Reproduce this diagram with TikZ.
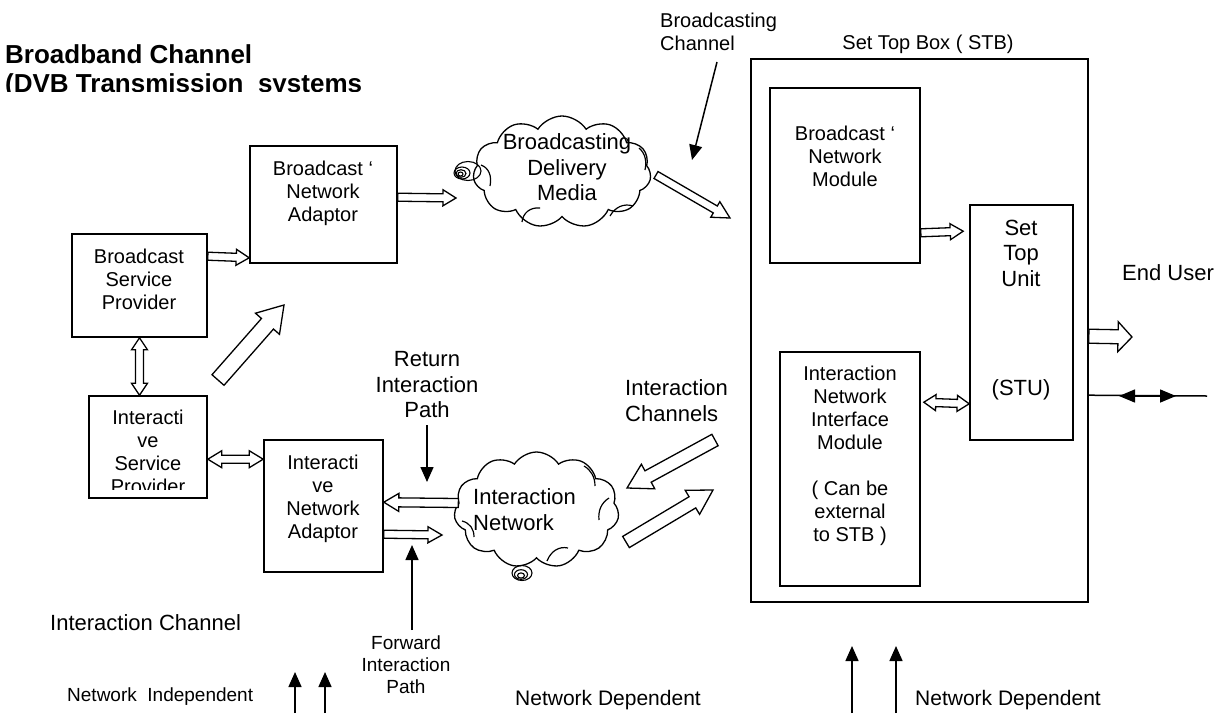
\documentclass[tikz,border=0pt]{standalone}
\usepackage{fontspec}
\setmainfont{Liberation Sans}
\usetikzlibrary{calc,arrows.meta,shapes.symbols}

% hollow block arrow: tail, tip, half shaft width, half head width, head length
\newcommand\blockarrow[5]{%
  \coordinate (ba-n) at ($(#2)!#5!(#1)$);
  \draw[blockarr] ($(#1)!#3!90:(#2)$) -- ($(ba-n)!#3!-90:(#1)$) -- ($(ba-n)!#4!-90:(#1)$)
    -- (#2) -- ($(ba-n)!#4!90:(#1)$) -- ($(ba-n)!#3!90:(#1)$) -- ($(#1)!#3!-90:(#2)$) -- cycle;
}
% hollow block arrow with a head at both ends
\newcommand\dblockarrow[5]{%
  \coordinate (ba-m) at ($(#1)!#5!(#2)$);
  \coordinate (ba-n) at ($(#2)!#5!(#1)$);
  \draw[blockarr] (#1) -- ($(ba-m)!#4!90:(#2)$) -- ($(ba-m)!#3!90:(#2)$)
    -- ($(ba-n)!#3!-90:(#1)$) -- ($(ba-n)!#4!-90:(#1)$) -- (#2)
    -- ($(ba-n)!#4!90:(#1)$) -- ($(ba-n)!#3!90:(#1)$)
    -- ($(ba-m)!#3!-90:(#2)$) -- ($(ba-m)!#4!-90:(#2)$) -- cycle;
}

\begin{document}
\begin{tikzpicture}[x=1pt,y=-1pt,
  box/.style={draw, line width=1.6pt, inner sep=0pt},
  blockarr/.style={draw, fill=white, line width=1.3pt, line join=miter},
  thinarr/.style={line width=1.5pt, -{Triangle[length=15pt,width=13pt]}},
  cloudshape/.style={cloud, draw, line width=1.3pt, cloud puffs=11, cloud puff arc=115,
    cloud ignores aspect, inner sep=0pt},
  puffline/.style={line width=1.2pt},
  bubble/.style={line width=1.1pt},
  t20/.style={inner sep=0pt, align=center, font=\fontsize{20}{23}\selectfont},
  t22/.style={inner sep=0pt, align=center, font=\fontsize{22}{25.5}\selectfont},
  t19/.style={inner sep=0pt, align=center, font=\fontsize{19}{22}\selectfont},
  t21/.style={inner sep=0pt, font=\fontsize{21}{24}\selectfont}]

\useasboundingbox (0,0) rectangle (1225,713);
\fill[white] (0,0) rectangle (1225,713);

% ---- title (lower line cut off by the frame) ----
\begin{scope}
  \clip (0,0) rectangle (420,91);
  \node[inner sep=0pt, anchor=north west, align=left,
        font=\fontsize{26}{29}\selectfont\bfseries] (title) at (5,44.5)
        {Broadband Channel\\(DVB Transmission\ \ systems};
\end{scope}

% ---- boxes ----
\node[box, minimum width=135pt, minimum height=103pt] (bsp) at (139.5,285.5) {};
\node[box, minimum width=118pt, minimum height=102pt] (isp) at (148,447) {};
\node[box, minimum width=147pt, minimum height=117pt] (bna) at (323.5,204.5) {};
\node[box, minimum width=119pt, minimum height=132pt] (ina) at (323.5,506) {};
\node[box, minimum width=337pt, minimum height=543pt] (stb) at (919.5,330.5) {};
\node[box, minimum width=150pt, minimum height=175pt] (bnm) at (845,175.5) {};
\node[box, minimum width=103pt, minimum height=235pt] (stu) at (1021.5,322.5) {};
\node[box, minimum width=140pt, minimum height=234pt] (inim) at (850,469) {};

% ---- box texts ----
\node[t20, anchor=north] (bsp-t) at (139,248.5) {Broadcast\\Service\\Provider};
\begin{scope}
  \clip (89,396) rectangle (207,489);
  \node[t20, anchor=north] (isp-t) at (148,409.5) {Interacti\\ve\\Service\\Provider};
\end{scope}
\node[t20, anchor=north] (bna-t) at (323,160.5) {Broadcast ‘\\Network\\Adaptor};
\node[t20, anchor=north] (ina-t) at (323,454.5) {Interacti\\ve\\Network\\Adaptor};
\node[t20, anchor=north] (bnm-t) at (845,125.5) {Broadcast ‘\\Network\\Module};
\node[t22, anchor=north] (stu-t) at (1021,219.5) {Set\\Top\\Unit};
\node[t22, anchor=base] (stu-abbr) at (1021,395) {(STU)};
\node[t20, anchor=north] (inim-t) at (850,365.5)
  {Interaction\\Network\\Interface\\Module\\[23pt]( Can be\\external\\to STB )};

% ---- clouds ----
\node[cloudshape, minimum width=178pt, minimum height=112pt] (bcloud) at (562,172) {};
\node[cloudshape, minimum width=165pt, minimum height=116pt] (icloud) at (536.5,510) {};
% inner puff strokes
\draw[puffline] (481,165) .. controls (489,168) and (492,176) .. (490,186);
\draw[puffline] (522,222) .. controls (523,213) and (530,207) .. (540,208);
\draw[puffline] (610,216) .. controls (615,207) and (624,203) .. (633,206);
\draw[puffline] (639,148) .. controls (645,153) and (647,161) .. (645,170);
\draw[puffline] (462,521) .. controls (470,523) and (474,529) .. (474,537);
\draw[puffline] (547,561) .. controls (551,551) and (559,546) .. (568,548);
\draw[puffline] (609,498) .. controls (601,503) and (598,511) .. (599,520);
\draw[puffline] (584,466) .. controls (591,470) and (595,477) .. (595,486);
% thought bubbles
\draw[bubble] (468,171) ellipse (13 and 9.5);
\draw[bubble] (462,173) ellipse (8 and 6);
\draw[bubble] (461,173.5) ellipse (5 and 3.8);
\draw[bubble] (460.5,174) ellipse (2.5 and 2);
\draw[bubble] (522,573) ellipse (10 and 7.5);
\draw[bubble] (521,574.5) ellipse (6.5 and 4.8);
\draw[bubble] (521,575.5) ellipse (3.5 and 2.6);
\node[t22, anchor=north] (bcloud-t) at (567,133.5) {Broadcasting\\Delivery\\Media};
\node[t22, anchor=north west, align=left] (icloud-t) at (473,488.5) {Interaction\\Network};

% ---- free labels ----
\node[t20, anchor=base] (stb-l) at (928,49) {Set Top Box ( STB)};
\node[t20, anchor=north west, align=left] (bch-l) at (660,12.5) {Broadcasting\\Channel};
\node[t22, anchor=north] (ret-l) at (427,351.5) {Return\\Interaction\\Path};
\node[t22, anchor=north west, align=left] (ich-l) at (625,379.5) {Interaction\\Channels};
\node[t22, anchor=base west] (eu-l) at (1122,280) {End User};
\node[t22, anchor=base west] (ic-l) at (50,630.5) {Interaction Channel};
\node[t19, anchor=base west] (ni-l) at (67,701.5) {Network\ \ Independent};
\node[t19, anchor=north] (fwd-l) at (406,636) {Forward\\Interaction\\Path};
\node[t21, anchor=base west] (nd1-l) at (515,705) {Network Dependent};
\node[t21, anchor=base west] (nd2-l) at (915,705) {Network Dependent};

% ---- block arrows ----
\coordinate (a1s) at ($(bsp.north east)+(0,23)$);
\coordinate (a1e) at ($(bna.south west)+(0,-6)$);
\blockarrow{a1s}{a1e}{4pt}{8pt}{13pt}

\coordinate (a2s) at ($(bna.north east)+(0,52)$);
\coordinate (a2e) at (456,198);
\blockarrow{a2s}{a2e}{4pt}{8pt}{13pt}

\coordinate (a3s) at (bsp.south);
\coordinate (a3e) at (bsp.south |- isp.north);
\dblockarrow{a3s}{a3e}{4pt}{8pt}{12pt}

\coordinate (up-s) at (218,380);
\coordinate (up-e) at (284,305);
\blockarrow{up-s}{up-e}{8pt}{16pt}{25pt}

\coordinate (bc-s) at (656,175);
\coordinate (bc-e) at (730,218);
\blockarrow{bc-s}{bc-e}{4pt}{9pt}{17pt}

\coordinate (m1s) at ($(bnm.south east)+(0,-31)$);
\coordinate (m1e) at ($(stu.north west)+(-6,27)$);
\blockarrow{m1s}{m1e}{4pt}{8pt}{13pt}

\coordinate (m2s) at ($(inim.north east)+(3,51)$);
\coordinate (m2e) at ($(stu.south west)+(0,-37)$);
\dblockarrow{m2s}{m2e}{4pt}{8pt}{12pt}

\coordinate (s1s) at ($(isp.north east)+(0,64)$);
\coordinate (s1e) at ($(ina.north west)+(0,20)$);
\dblockarrow{s1s}{s1e}{4pt}{8.5pt}{14pt}

\coordinate (r1s) at ($(icloud.west)+(4,-7)$);
\coordinate (r1e) at ($(ina.north east)+(0,63)$);
\blockarrow{r1s}{r1e}{4.5pt}{9pt}{15pt}

\coordinate (f1s) at ($(ina.north east)+(0,95)$);
\coordinate (f1e) at (442,535);
\blockarrow{f1s}{f1e}{4pt}{8pt}{14pt}

\coordinate (c1s) at (715,440);
\coordinate (c1e) at (627,488);
\blockarrow{c1s}{c1e}{6.5pt}{14pt}{24pt}

\coordinate (c2s) at (626,542);
\coordinate (c2e) at (713,490);
\blockarrow{c2s}{c2e}{6.5pt}{14pt}{24pt}

\coordinate (e1s) at ($(stb.north east)+(0,278)$);
\coordinate (e1e) at (1132,337);
\blockarrow{e1s}{e1e}{7pt}{15pt}{14pt}

% ---- thin arrows ----
\coordinate (bch-s) at (717,62);
\coordinate (bch-e) at (692,160);
\draw[thinarr] (bch-s) -- (bch-e);

\coordinate (ret-s) at (427,425);
\coordinate (ret-e) at (427,482);
\draw[thinarr] (ret-s) -- (ret-e);

\coordinate (fwd-s) at (412,630);
\coordinate (fwd-e) at (412,545);
\draw[thinarr] (fwd-s) -- (fwd-e);

\coordinate (u1s) at (295,713);
\coordinate (u1e) at (295,672);
\coordinate (u2s) at (325,713);
\coordinate (u2e) at (325,672);
\draw[thinarr] (u1s) -- (u1e);
\draw[thinarr] (u2s) -- (u2e);

\coordinate (u3s) at (852,713);
\coordinate (u3e) at (852,646);
\coordinate (u4s) at (896,713);
\coordinate (u4e) at (896,646);
\draw[thinarr] (u3s) -- (u3e);
\draw[thinarr] (u4s) -- (u4e);

% ---- end-user two-way line ----
\coordinate (eu-s) at ($(stb.north east)+(0,337)$);
\coordinate (eu-e) at (1207,396);
\coordinate (eu-m) at (1147,396);
\coordinate (eu-lt) at (1119,396);
\coordinate (eu-rt) at (1176,396);
\draw[line width=1.5pt] (eu-s) -- (eu-e);
\draw[line width=1.5pt, -{Triangle[length=16pt,width=13pt]}] (eu-m) -- (eu-lt);
\draw[line width=1.5pt, -{Triangle[length=16pt,width=13pt]}] (eu-m) -- (eu-rt);

\end{tikzpicture}
\end{document}
